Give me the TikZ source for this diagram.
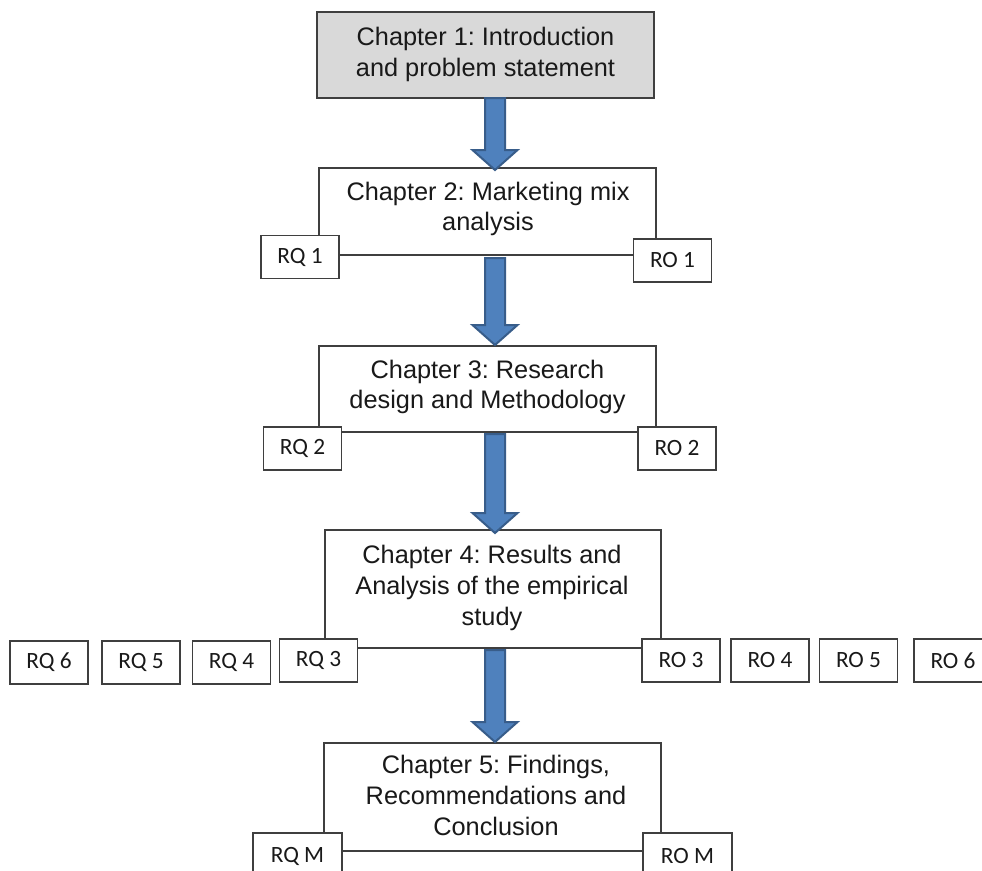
\documentclass[tikz,border=0pt]{standalone}
\usepackage{fontspec}
\setmainfont{Liberation Sans}
\newfontfamily\rqfont{Carlito}
\frenchspacing
\definecolor{boxline}{HTML}{3F3F3F}
\definecolor{chgray}{HTML}{D9D9D9}
\definecolor{arrfill}{HTML}{4F81BD}
\definecolor{arrline}{HTML}{385D8A}
\tikzset{
  sz/.style 2 args={minimum width=#1*0.75pt, minimum height=#2*0.75pt},
  chbox/.style={draw=boxline, line width=1pt, fill=white, inner sep=0pt, outer sep=0pt},
  chtext/.style={align=center, inner sep=0pt, font=\fontsize{19}{23}\selectfont, text=black!90},
  rqbox/.style={draw=boxline, line width=1pt, fill=white, inner sep=0pt, outer sep=0pt,
    minimum width=78*0.75pt, minimum height=43*0.75pt, font=\rqfont\fontsize{17.5}{19}\selectfont, text=black!90},
  fatarrow/.style={draw=arrline, line width=1.5pt, fill=arrfill, line join=miter}
}
\newcommand\blockarrow[3]{% #1 top coordinate, #2 head-top coordinate, #3 tip coordinate
  \draw[fatarrow] ($(#1)+(-10,0)$) -- ($(#1)+(10,0)$) -- ($(#2)+(10,0)$) -- ($(#2)+(22.5,0)$)
    -- (#3) -- ($(#2)+(-22.5,0)$) -- ($(#2)+(-10,0)$) -- cycle;}
\usetikzlibrary{calc}
\begin{document}
\begin{tikzpicture}[x=0.75pt, y=-0.75pt]
\clip (0,0) rectangle (982,871);
\fill[white] (0,0) rectangle (982,871);

% chapter boxes
\node[chbox, fill=chgray, sz={337}{86}] (c1) at (485.5,55) {};
\node[chtext] (c1t) at (485.5,54.5) {Chapter 1: Introduction\\and problem statement};

\node[chbox, sz={337}{87}] (c2) at (487.5,211.5) {};
\node[chtext] (c2t) at (488,209) {Chapter 2: Marketing mix\\analysis};

\node[chbox, sz={337}{86}] (c3) at (487.5,389) {};
\node[chtext] (c3t) at (487.5,387) {Chapter 3: Research\\design and Methodology};

\node[chbox, sz={336}{118}] (c4) at (493,589) {};
\node[chtext] (c4t) at (492,588) {Chapter 4: Results and\\Analysis of the empirical\\study};

\node[chbox, sz={337}{108}] (c5) at (492.5,797) {};
\node[chtext] (c5t) at (496,795.5) {Chapter 5: Findings,\\Recommendations and\\Conclusion};

% arrows
\coordinate (a1s) at (495,98);  \coordinate (a1h) at (495,150); \coordinate (a1e) at (495,170);
\coordinate (a2s) at (495,258); \coordinate (a2h) at (495,325); \coordinate (a2e) at (495,345);
\coordinate (a3s) at (495,434); \coordinate (a3h) at (495,513); \coordinate (a3e) at (495,533);
\coordinate (a4s) at (495,650); \coordinate (a4h) at (495,722); \coordinate (a4e) at (495,742);
\blockarrow{a1s}{a1h}{a1e}
\blockarrow{a2s}{a2h}{a2e}
\blockarrow{a3s}{a3h}{a3e}
\blockarrow{a4s}{a4h}{a4e}

% RQ / RO boxes
\node[rqbox] (rq1) at (300,257) {RQ 1};
\node[rqbox] (ro1) at (672.5,260.5) {RO 1};
\node[rqbox] (rq2) at (302.5,448.5) {RQ 2};
\node[rqbox] (ro2) at (677,448.5) {RO 2};

\node[rqbox] (rq3) at (318.5,660.5) {RQ 3};
\node[rqbox] (rq4) at (231.5,662.5) {RQ 4};
\node[rqbox] (rq5) at (141,662.5) {RQ 5};
\node[rqbox] (rq6) at (49,662.5) {RQ 6};
\node[rqbox] (ro3) at (681,660.5) {RO 3};
\node[rqbox] (ro4) at (770,660.5) {RO 4};
\node[rqbox] (ro5) at (858.5,660.5) {RO 5};
\node[rqbox] (ro6) at (953,660.5) {RO 6};

\node[rqbox, minimum width=89*0.75pt, minimum height=46*0.75pt] (rqm) at (297.5,856) {RQ M};
\node[rqbox, minimum width=89*0.75pt, minimum height=46*0.75pt] (rom) at (687.5,856) {RO M};
\end{tikzpicture}
\end{document}
